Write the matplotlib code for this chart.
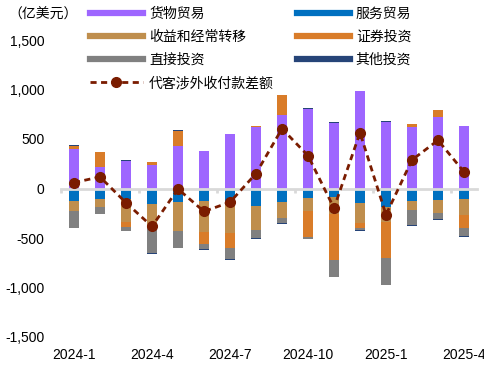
import numpy as np
import matplotlib
matplotlib.use("Agg")
import matplotlib.pyplot as plt
import matplotlib.transforms as mtransforms
from matplotlib.lines import Line2D

plt.rcParams['font.family'] = ['Liberation Sans', 'Noto Sans CJK SC', 'DejaVu Sans']
plt.rcParams['font.size'] = 10

months = ['2024-1', '2024-2', '2024-3', '2024-4', '2024-5', '2024-6', '2024-7', '2024-8',
          '2024-9', '2024-10', '2024-11', '2024-12', '2025-1', '2025-2', '2025-3', '2025-4']
goods = [396, 218, 275, 238, 430, 379, 551, 618, 739, 799, 658, 984, 671, 618, 718, 631]
services = [-124, -104, -107, -154, -134, -124, -141, -175, -134, -94, -89, -144, -188, -124, -114, -104]
income = [-101, -81, -228, -228, -292, -312, -312, -242, -161, -131, -165, -201, -151, -91, -131, -168]
securities = [34, 151, -57, 30, 151, -121, -144, 13, 205, -265, -465, -50, -359, 34, 74, -124]
fdi = [-171, -70, -40, -269, -178, -57, -111, -81, -50, -17, -170, -27, -272, -151, -60, -81]
other = [10, -7, 13, -13, 10, -10, -10, -10, -17, 13, 13, -10, 10, -10, -10, -10]
net = [60, 117, -144, -383, -5, -232, -138, 151, 604, 332, -198, 564, -265, 289, 487, 168]

series_names = ['货物贸易', '服务贸易', '收益和经常转移', '证券投资', '直接投资', '其他投资']
line_name = '代客涉外收付款差额'
yticks = [-1500, -1000, -500, 0, 500, 1000, 1500]
unit_label = '（亿美元）'

colors = ['#9E66FF', '#0070C0', '#BF8E4D', '#D97C29', '#808080', '#264478']
line_color = '#7A1C00'

fig = plt.figure(figsize=(4.85, 3.73), dpi=100)
ax = fig.add_axes([61/485, 1-337/373, 416/485, 297/373])

x = np.arange(len(months))
pos_b = np.zeros(len(months))
neg_b = np.zeros(len(months))
handles = []
for vals, c, name in zip([goods, services, income, securities, fdi, other], colors, series_names):
    v = np.array(vals, dtype=float)
    bottoms = np.where(v >= 0, pos_b, neg_b)
    ax.bar(x, v, 0.38, bottom=bottoms, color=c, zorder=1)
    pos_b += np.clip(v, 0, None)
    neg_b += np.clip(v, None, 0)
    handles.append(Line2D([0], [0], color=c, lw=4.5))

ln, = ax.plot(x, net, color=line_color, ls=(0, (2.2, 1.6)), lw=2, marker='o', ms=7,
              markerfacecolor=line_color, markeredgecolor=line_color, zorder=4)

ax.set_xlim(-0.5, len(months) - 0.5)
ax.set_ylim(-1500, 1500)
ax.set_yticks(yticks)
ax.set_yticklabels([f"{v:,}" for v in yticks])
ax.tick_params(axis='y', length=0, pad=12, labelsize=10)

for s in ['top', 'right', 'left']:
    ax.spines[s].set_visible(False)
ax.spines['bottom'].set_position(('data', 0))
ax.spines['bottom'].set_color('#D9D9D9')
ax.spines['bottom'].set_linewidth(2)
ax.spines['bottom'].set_zorder(2.5)
ax.set_xticks(np.arange(-0.5, len(months) - 0.5, 3))
ax.set_xticklabels([])
ax.tick_params(axis='x', length=3, width=2, color='#D9D9D9', direction='out')

trans = mtransforms.blended_transform_factory(ax.transData, ax.transAxes)
for i in range(0, len(months), 3):
    ax.text(x[i], -0.06, months[i], transform=trans, ha='center', va='center', fontsize=10)

fig.text(8/485, 1-15/373, unit_label, ha='left', va='center', fontsize=10)

order = [0, 2, 4, 'line', 1, 3, 5]
hs, ls = [], []
for o in order:
    if o == 'line':
        hs.append(ln); ls.append(line_name)
    else:
        hs.append(handles[o]); ls.append(series_names[o])
fig.legend(hs, ls, ncol=2, loc='upper left', bbox_to_anchor=(90/485, 1-7/373),
           frameon=False, borderaxespad=0, borderpad=0, handlelength=3.8,
           handletextpad=0.45, columnspacing=1.65, labelspacing=0.65, fontsize=10)

fig.savefig('out.png', dpi=100)
